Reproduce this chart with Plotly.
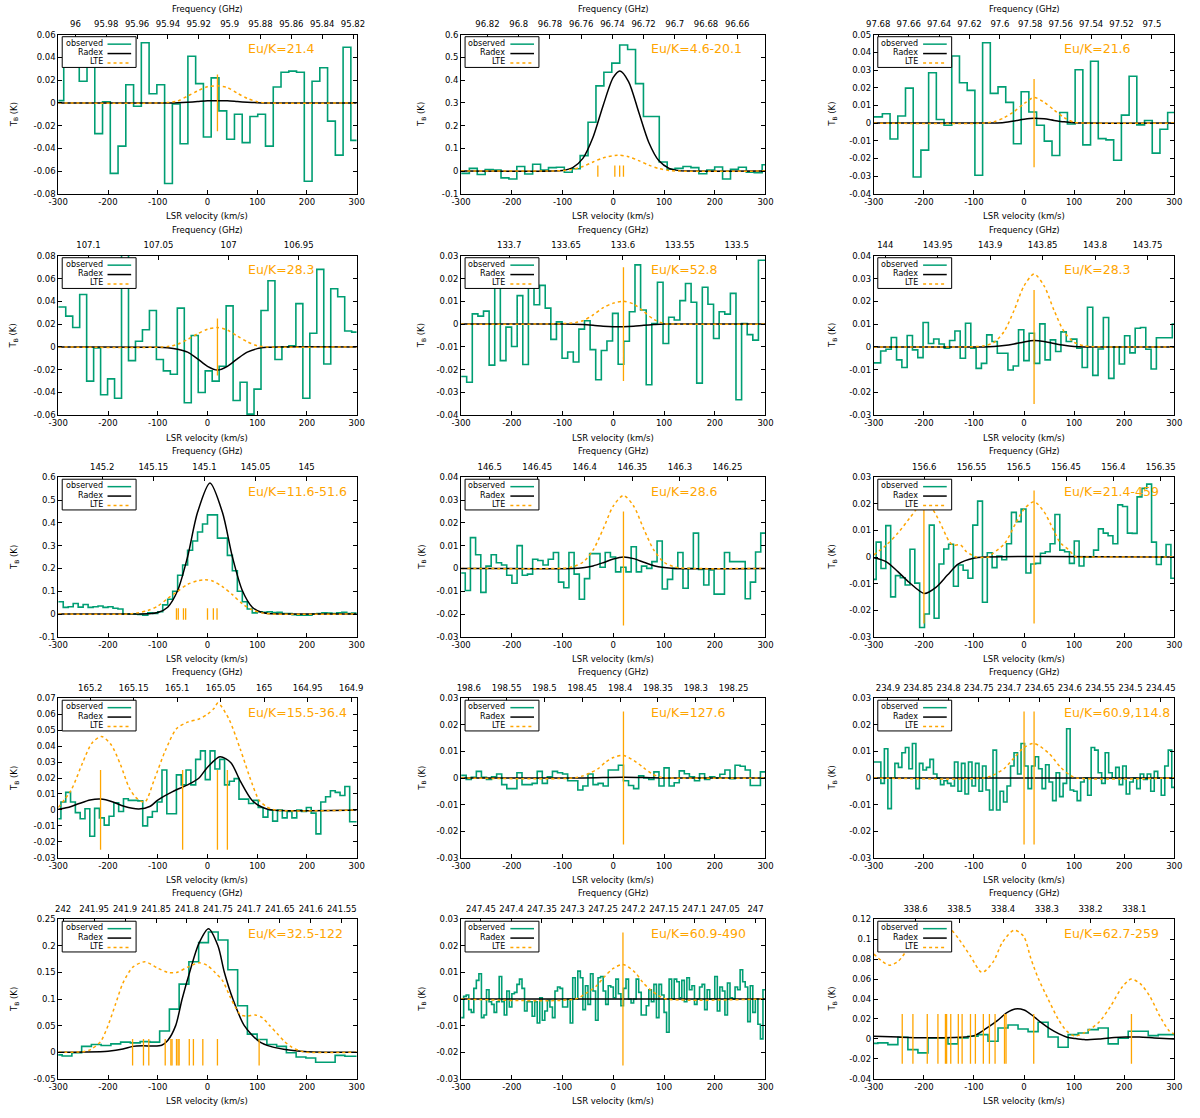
import plotly.graph_objects as go

# ---------------------------------------------------------------- data
VEL_TICKS = [-300, -200, -100, 0, 100, 200, 300]
MARK_LO, MARK_HI = -0.025, 0.025

# ---- panel 1
P1_LABEL = "Eu/K=21.4"
P1_FREQ_RANGE = [96.0111, 95.8176]
P1_FREQ_TICKS = ["96", "95.98", "95.96", "95.94", "95.92", "95.9", "95.88", "95.86", "95.84", "95.82"]
P1_Y_TICKS = ["-0.08", "-0.06", "-0.04", "-0.02", "0", "0.02", "0.04", "0.06"]
P1_V0, P1_DV = -296.8, 15.6
P1_OBS = [0.002, 0.045, 0.045, 0.019, 0.035, -0.027, 0.001, -0.062, -0.038, 0.016, -0.003, 0.053, 0.008,
          0.016, -0.071, -0.001, -0.036, 0.041, 0.017, -0.030, 0.022, -0.007, -0.032, -0.010, -0.035, -0.012,
          -0.010, -0.038, 0.014, 0.027, 0.028, 0.027, -0.069, 0.019, 0.031, -0.016, -0.046, 0.049, -0.033]
P1_RADEX_V = [-300, -80, -60, -40, -20, 0, 20, 40, 60, 80, 100, 120, 300]
P1_RADEX_T = [0, 0, 0.0002, 0.0006, 0.0012, 0.0018, 0.002, 0.0018, 0.0012, 0.0006, 0.0002, 0, 0]
P1_LTE_V = [-300, -80, -60, -40, -20, 0, 20, 40, 60, 80, 100, 120, 300]
P1_LTE_T = [0, 0.0003, 0.0017, 0.006, 0.0105, 0.0143, 0.015, 0.0135, 0.0085, 0.004, 0.001, 0, 0]
P1_LINES = [20]

# ---- panel 2
P2_LABEL = "Eu/K=4.6-20.1"
P2_FREQ_RANGE = [96.8369, 96.6419]
P2_FREQ_TICKS = ["96.82", "96.8", "96.78", "96.76", "96.74", "96.72", "96.7", "96.68", "96.66"]
P2_Y_TICKS = ["-0.1", "0", "0.1", "0.2", "0.3", "0.4", "0.5", "0.6"]
P2_V0, P2_DV = -291.6, 15.6
P2_OBS = [-0.01, 0.012, -0.015, 0.007, 0.004, -0.03, -0.035, 0.02, -0.013, 0.03, 0.004, 0.015, 0.017,
          -0.005, 0.01, 0.068, 0.215, 0.375, 0.435, 0.475, 0.555, 0.535, 0.385, 0.24, 0.24, 0.04, 0.008,
          0.012, 0.02, 0.015, -0.012, 0.005, 0.018, -0.035, 0.008, 0.017, -0.005, -0.007, 0.028]
P2_RADEX_V = [-300, -120, -100, -80, -60, -40, -20, 0, 13, 30, 50, 70, 90, 110, 130, 150, 300]
P2_RADEX_T = [0, 0.0005, 0.003, 0.0156, 0.056, 0.149, 0.289, 0.412, 0.44, 0.394, 0.26, 0.126, 0.045,
              0.012, 0.002, 0, 0]
P2_LTE_V = [-300, -120, -100, -80, -60, -40, -20, 8, 30, 50, 70, 90, 110, 130, 300]
P2_LTE_T = [0, 0.0005, 0.002, 0.008, 0.02, 0.04, 0.058, 0.07, 0.063, 0.046, 0.026, 0.011, 0.003, 0, 0]
P2_LINES = [-30.5, 3, 12.5, 20]

# ---- panel 3
P3_LABEL = "Eu/K=21.6"
P3_FREQ_RANGE = [97.6829, 97.4853]
P3_FREQ_TICKS = ["97.68", "97.66", "97.64", "97.62", "97.6", "97.58", "97.56", "97.54", "97.52", "97.5"]
P3_Y_TICKS = ["-0.04", "-0.03", "-0.02", "-0.01", "0", "0.01", "0.02", "0.03", "0.04", "0.05"]
P3_V0, P3_DV = -290.7, 15.4
P3_OBS = [0.0035, 0.0053, -0.009, 0.004, 0.0198, -0.0305, -0.0153, 0.0285, 0.002, -0.0012, 0.038, 0.0228,
          0.0185, -0.0295, 0.0455, 0.0168, 0.0205, 0.0117, -0.0117, 0.0177, 0.0063, -0.0012, -0.0102,
          -0.0183, 0.006, -0.0005, 0.0302, -0.0123, 0.035, -0.0088, -0.0095, -0.021, 0.0045, 0.0265,
          -0.001, 0.0015, -0.017, -0.0035, 0.006]
P3_RADEX_V = [-300, -80, -60, -40, -20, 0, 20, 40, 60, 80, 100, 120, 300]
P3_RADEX_T = [0, 0, 0.0001, 0.0004, 0.0012, 0.0022, 0.0028, 0.0024, 0.0015, 0.0007, 0.0002, 0, 0]
P3_LTE_V = [-300, -80, -60, -40, -20, 0, 20, 40, 60, 80, 100, 120, 300]
P3_LTE_T = [0, 0, 0.0008, 0.003, 0.0065, 0.011, 0.0145, 0.0118, 0.0074, 0.0031, 0.0005, 0, 0]
P3_LINES = [20]

# ---- panel 4
P4_LABEL = "Eu/K=28.3"
P4_FREQ_RANGE = [107.1215, 106.9086]
P4_FREQ_TICKS = ["107.1", "107.05", "107", "106.95"]
P4_Y_TICKS = ["-0.06", "-0.04", "-0.02", "0", "0.02", "0.04", "0.06", "0.08"]
P4_V0, P4_DV = -292.0, 14.02
P4_OBS = [0.035, 0.027, 0.017, 0.046, -0.030, -0.001, -0.042, -0.028, -0.045, 0.085, -0.012, 0.005, 0.015,
          0.032, -0.011, -0.021, -0.024, 0.034, -0.049, 0.010, -0.040, -0.021, -0.030, -0.017, 0.036,
          -0.047, -0.031, -0.059, -0.037, 0.032, 0.058, -0.011, 0.0, 0.001, 0.038, -0.045, 0.012, 0.068,
          -0.015, 0.051, 0.044, 0.014, 0.013]
P4_RADEX_V = [-300, -100, -80, -60, -40, -20, 0, 20, 40, 60, 80, 100, 120, 140, 300]
P4_RADEX_T = [0, -0.0002, -0.0007, -0.002, -0.0046, -0.0104, -0.017, -0.0203, -0.017, -0.0104, -0.0046,
              -0.0015, -0.0004, 0, 0]
P4_LTE_V = [-300, -80, -60, -40, -20, 0, 20, 40, 60, 80, 100, 120, 300]
P4_LTE_T = [0, 0.0003, 0.0024, 0.0065, 0.0115, 0.0155, 0.017, 0.0148, 0.0095, 0.0045, 0.001, 0, 0]
P4_LINES = [20]

# ---- panel 5
P5_LABEL = "Eu/K=52.8"
P5_FREQ_RANGE = [133.7422, 133.4747]
P5_FREQ_TICKS = ["133.7", "133.65", "133.6", "133.55", "133.5"]
P5_Y_TICKS = ["-0.04", "-0.03", "-0.02", "-0.01", "0", "0.01", "0.02", "0.03"]
P5_V0, P5_DV = -294.6, 11.06
P5_OBS = [-0.023, -0.0255, 0.0045, 0.0035, 0.0057, -0.018, 0.018, -0.016, -0.0013, -0.0098, 0.0125, -0.0177,
          0.021, 0.0085, 0.017, 0.007, -0.0067, 0.001, -0.015, -0.0122, -0.0166, -0.0022, 0.0015, -0.0112,
          -0.0244, -0.0116, -0.0074, 0.0047, -0.0176, -0.0075, 0.0054, 0.026, 0.0062, -0.0266, 0.0003,
          0.0184, -0.0085, 0.003, 0.0018, 0.0103, 0.0178, 0.0096, -0.0259, 0.0162, 0.0087, -0.0063, 0.0054,
          0.0044, 0.0135, -0.0332, 0.0003, -0.0046, -0.007, 0.028]
P5_RADEX_V = [-300, -100, -60, -40, -20, 0, 20, 40, 60, 80, 100, 300]
P5_RADEX_T = [0, 0, -0.0002, -0.0005, -0.0009, -0.0011, -0.0011, -0.0009, -0.0005, -0.0002, 0, 0]
P5_LTE_V = [-300, -80, -60, -40, -20, 0, 20, 40, 60, 80, 100, 120, 300]
P5_LTE_T = [0, 0.0005, 0.0015, 0.004, 0.0072, 0.0092, 0.01, 0.0088, 0.0055, 0.002, 0.0003, 0, 0]
P5_LINES = [20]

# ---- panel 6
P6_LABEL = "Eu/K=28.3"
P6_FREQ_RANGE = [144.0109, 143.7245]
P6_FREQ_TICKS = ["144", "143.95", "143.9", "143.85", "143.8", "143.75"]
P6_Y_TICKS = ["-0.03", "-0.02", "-0.01", "0", "0.01", "0.02", "0.03", "0.04"]
P6_V0, P6_DV = -291.7, 10.59
P6_OBS = [-0.007, -0.0018, -0.001, 0.0041, -0.0057, -0.009, 0.005, -0.0013, -0.0047, 0.0107, 0.0015, 0.0035,
          0.0013, -0.0006, 0.0028, 0.007, -0.005, 0.0104, -0.0006, -0.0094, -0.0072, 0.0053, 0.0024, -0.0028,
          -0.0028, -0.0101, -0.0084, 0.0075, -0.006, 0.006, -0.0072, 0.0101, -0.0057, 0.0031, -0.002, 0.0066,
          0.0024, 0.0034, -0.0006, -0.009, 0.0174, -0.0125, -0.0009, 0.0129, -0.0138, -0.0001, -0.0075,
          0.0049, -0.0026, 0.0082, 0.0085, -0.001, -0.0097, 0.004, 0.004, 0.004, 0.01]
P6_RADEX_V = [-300, -80, -60, -40, -20, 0, 20, 40, 60, 80, 100, 120, 300]
P6_RADEX_T = [0, 0, 0.0002, 0.0006, 0.0013, 0.0022, 0.0028, 0.0024, 0.0015, 0.0007, 0.0002, 0, 0]
P6_LTE_V = [-300, -100, -80, -60, -40, -20, 0, 20, 40, 60, 80, 100, 120, 140, 300]
P6_LTE_T = [0, 0.0001, 0.0005, 0.002, 0.0067, 0.016, 0.0268, 0.032, 0.0268, 0.016, 0.0067, 0.002, 0.0005,
            0.0001, 0]
P6_LINES = [20]

# ---- panel 7
P7_LABEL = "Eu/K=11.6-51.6"
P7_FREQ_RANGE = [145.243, 144.951]
P7_FREQ_TICKS = ["145.2", "145.15", "145.1", "145.05", "145", "144.95"]
P7_Y_TICKS = ["-0.1", "0", "0.1", "0.2", "0.3", "0.4", "0.5", "0.6"]
P7_V0, P7_DV = -295.0, 10.0
P7_OBS = [0.054, 0.029, 0.032, 0.046, 0.03, 0.042, 0.029, 0.032, 0.035, 0.029, 0.032, 0.025, 0.022, 0.0, 0.0,
          0.0, -0.002, -0.005, 0.005, 0.002, 0.01, 0.04, 0.065, 0.10, 0.17, 0.215, 0.28, 0.32, 0.36, 0.395,
          0.435, 0.435, 0.333, 0.333, 0.257, 0.19, 0.10, 0.054, 0.022, 0.005, 0.01, 0.008, 0.01, 0.006,
          0.007, 0.002, 0.002, -0.003, -0.005, -0.005, -0.005, 0.0, 0.002, 0.005, 0.004, 0.002, 0.005,
          0.008, 0.002, 0.004]
P7_RADEX_V = [-300, -140, -120, -100, -80, -60, -40, -20, 5, 30, 50, 70, 90, 110, 130, 150, 300]
P7_RADEX_T = [0, 0.0001, 0.001, 0.0064, 0.030, 0.103, 0.251, 0.446, 0.575, 0.446, 0.251, 0.103, 0.030,
              0.0064, 0.001, 0.0001, 0]
P7_LTE_V = [-300, -160, -140, -120, -100, -80, -60, -40, -20, -5, 10, 30, 50, 70, 90, 110, 130, 300]
P7_LTE_T = [0, 0, 0.005, 0.015, 0.035, 0.068, 0.10, 0.13, 0.146, 0.15, 0.145, 0.12, 0.085, 0.045, 0.018,
            0.005, 0, 0]
P7_LINES = [-62.4, -58.7, -48.3, -43.9, 0, 11.8, 19.2]

# ---- panel 8
P8_LABEL = "Eu/K=28.6"
P8_FREQ_RANGE = [146.53, 146.21]
P8_FREQ_TICKS = ["146.5", "146.45", "146.4", "146.35", "146.3", "146.25"]
P8_Y_TICKS = ["-0.03", "-0.02", "-0.01", "0", "0.01", "0.02", "0.03", "0.04"]
P8_V0, P8_DV = -297.0, 10.22
P8_OBS = [-0.002, -0.0097, 0.0135, 0.006, -0.0105, 0.001, 0.006, 0.0025, 0.0015, -0.003, -0.0065, 0.010,
          -0.003, -0.0025, 0.004, 0.0035, 0.0015, 0.004, 0.007, -0.006, -0.0085, 0.007, -0.0025, -0.0135,
          -0.0045, 0.0065, 0.0065, 0.0005, 0.007, 0.005, -0.0015, 0.0005, -0.0015, 0.0095, -0.0015, 0.001,
          0.0, 0.003, 0.012, -0.009, -0.0048, 0.0, 0.007, -0.0087, 0.0, 0.0155, -0.0005, -0.0073, -0.0007,
          -0.0113, -0.0113, 0.007, 0.003, 0.003, 0.003, -0.0133, -0.006, 0.0072, 0.0155]
P8_RADEX_V = [-300, -80, -60, -40, -20, 0, 20, 40, 60, 80, 100, 120, 300]
P8_RADEX_T = [0, 0, 0.0003, 0.0011, 0.0025, 0.0041, 0.005, 0.0043, 0.0027, 0.0012, 0.0004, 0, 0]
P8_LTE_V = [-300, -100, -80, -60, -40, -20, 0, 20, 40, 60, 80, 100, 120, 140, 300]
P8_LTE_T = [0, 0.0001, 0.0007, 0.0027, 0.008, 0.0173, 0.0274, 0.032, 0.0274, 0.0173, 0.008, 0.0027, 0.0007,
            0.0001, 0]
P8_LINES = [20]

# ---- panel 9
P9_LABEL = "Eu/K=21.4-459"
P9_FREQ_RANGE = [156.6533, 156.3357]
P9_FREQ_TICKS = ["156.6", "156.55", "156.5", "156.45", "156.4", "156.35"]
P9_Y_TICKS = ["-0.03", "-0.02", "-0.01", "0", "0.01", "0.02", "0.03"]
P9_V0, P9_DV = -300.2, 9.65
P9_OBS = [-0.0084, 0.0056, -0.0043, 0.0118, -0.015, -0.007, -0.0078, -0.0105, 0.0029, -0.0098, -0.0265,
          -0.0214, 0.012, -0.023, -0.0026, 0.003, 0.0048, -0.011, -0.003, -0.005, -0.008, 0.012, 0.021,
          -0.017, 0.0016, -0.004, 0.0004, -0.001, 0.005, 0.0168, 0.0133, 0.018, -0.006, -0.0026, -0.0024,
          0.0014, 0.002, 0.005, 0.016, 0.0026, 0.002, -0.0024, 0.006, -0.0034, 0.0, 0.0, 0.0026, 0.0106,
          0.009, 0.008, 0.005, 0.0196, 0.019, 0.009, 0.0089, 0.0226, 0.0258, 0.0274, 0.0056, -0.0028, 0.0,
          0.0047, -0.008]
P9_RADEX_V = [-300, -275, -252, -229, -199, -176, -153, -131, -101, -80, 300]
P9_RADEX_T = [-0.0003, -0.0018, -0.0055, -0.0096, -0.0137, -0.0114, -0.0068, -0.0026, -0.0005, 0, 0]
P9_LTE_V = [-300, -275, -252, -229, -210, -200, -185, -168, -150, -142, -127, -115, -105, -95, -70, -62,
            -39, -17, 0, 20, 40, 54, 70, 77, 88, 104, 120, 300]
P9_LTE_T = [0.0008, 0.0045, 0.009, 0.0145, 0.019, 0.02, 0.0185, 0.013, 0.006, 0.0045, 0.0045, 0.002, 0.0008,
            0.0, 0.0, 0.0014, 0.005, 0.0126, 0.018, 0.0208, 0.017, 0.012, 0.006, 0.0045, 0.0029, 0.0, 0, 0]
P9_LINES = [-200, 20]

# ---- panel 10
P10_LABEL = "Eu/K=15.5-36.4"
P10_FREQ_RANGE = [165.2368, 164.8936]
P10_FREQ_TICKS = ["165.2", "165.15", "165.1", "165.05", "165", "164.95", "164.9"]
P10_Y_TICKS = ["-0.03", "-0.02", "-0.01", "0", "0.01", "0.02", "0.03", "0.04", "0.05", "0.06", "0.07"]
P10_V0, P10_DV = -299.5, 9.675
P10_OBS = [-0.0055, 0.005, 0.011, 0.005, -0.0017, -0.0055, 0.0007, -0.0165, 0.001, -0.005, -0.0095, -0.004,
           0.0045, -0.001, 0.007, 0.006, 0.006, 0.0057, -0.01, -0.0045, -0.001, 0.005, 0.025, -0.0024,
           -0.0024, 0.022, 0.0157, 0.025, 0.0157, 0.0317, 0.037, 0.019, 0.037, 0.0257, 0.0317, 0.0157, 0.018,
           0.0196, 0.0068, 0.0068, 0.004, 0.006, 0.0015, -0.0045, 0.0, -0.007, 0.0, -0.005, -0.001, -0.005,
           0.0, -0.001, 0.0015, -0.002, -0.015, 0.005, 0.0083, 0.012, 0.011, 0.009, 0.0147, -0.0074]
P10_RADEX_V = [-300, -281, -258, -236, -215, -190, -168, -138, -115, -100, -70, -40, -17, -2, 25, 47, 66, 89,
               111, 130, 300]
P10_RADEX_T = [0.0005, 0.0015, 0.004, 0.0062, 0.0068, 0.005, 0.0023, 0.0006, 0.0023, 0.0062, 0.0115, 0.0157,
               0.02, 0.026, 0.0333, 0.0296, 0.018, 0.0062, 0.0015, 0.0, 0]
P10_LTE_V = [-300, -274, -251, -232, -213, -194, -175, -157, -142, -126, -107, -85, -62, -40, -17, 0, 13, 21,
             43, 66, 89, 104, 119, 135, 300]
P10_LTE_T = [0.0015, 0.0125, 0.0296, 0.042, 0.046, 0.041, 0.0285, 0.0136, 0.0072, 0.005, 0.019, 0.037, 0.051,
             0.055, 0.057, 0.06, 0.0636, 0.067, 0.057, 0.038, 0.017, 0.006, 0.002, 0, 0]
P10_LINES = [-215, -50, 20, 40]

# ---- panel 11
P11_LABEL = "Eu/K=127.6"
P11_FREQ_RANGE = [198.6102, 198.2079]
P11_FREQ_TICKS = ["198.6", "198.55", "198.5", "198.45", "198.4", "198.35", "198.3", "198.25"]
P11_Y_TICKS = ["-0.03", "-0.02", "-0.01", "0", "0.01", "0.02", "0.03"]
P11_V0, P11_DV = -295.0, 10.0
P11_OBS = [0.001, -0.0005, 0.0003, 0.0025, 0.0003, -0.0005, 0.0005, 0.0015, -0.0025, -0.004, -0.004, 0.002,
           -0.0025, -0.0025, -0.002, 0.0025, -0.002, 0.0005, 0.0025, 0.002, 0.0015, -0.001, -0.001, -0.0045,
           -0.003, 0.0015, -0.0025, -0.002, -0.003, 0.003, 0.003, 0.0048, -0.001, -0.0028, -0.004, 0.0008,
           0.0, -0.0005, 0.0023, -0.003, 0.0038, -0.003, -0.0018, 0.0027, 0.0016, 0.0005, -0.001, 0.0016,
           -0.0005, 0.0005, 0.0, 0.0014, 0.003, -0.0003, 0.0048, 0.0044, 0.003, -0.0028, -0.0028, 0.0023]
P11_RADEX_V = [-300, -60, 20, 100, 300]
P11_RADEX_T = [0, 0, 0.0003, 0, 0]
P11_LTE_V = [-300, -80, -60, -45, -30, -15, 0, 20, 45, 60, 76, 91, 110, 300]
P11_LTE_T = [0, 0, 0.0008, 0.002, 0.0035, 0.006, 0.0077, 0.0085, 0.006, 0.0038, 0.0016, 0.0004, 0, 0]
P11_LINES = [20]

# ---- panel 12
P12_LABEL = "Eu/K=60.9,114.8"
P12_FREQ_RANGE = [234.9233, 234.4277]
P12_FREQ_TICKS = ["234.9", "234.85", "234.8", "234.75", "234.7", "234.65", "234.6", "234.55", "234.5", "234.45"]
P12_Y_TICKS = ["-0.03", "-0.02", "-0.01", "0", "0.01", "0.02", "0.03"]
P12_V0, P12_DV = -289.5, 7.0
P12_OBS = [0.006, -0.002, 0.011, -0.0115, 0.0, 0.0055, 0.004, 0.0095, 0.0115, 0.0035, 0.013, -0.004, 0.0055,
           0.003, 0.004, 0.007, 0.0015, 0.0, -0.0025, -0.001, -0.002, -0.003, 0.006, -0.005, 0.0055, -0.006,
           0.006, -0.003, 0.0055, -0.005, 0.0045, -0.0045, -0.012, 0.0105, -0.012, -0.005, -0.009, -0.003,
           0.0045, 0.0095, 0.0015, 0.013, 0.0045, -0.004, 0.0045, 0.008, 0.0035, -0.004, 0.005, -0.0015,
           -0.0085, 0.002, -0.007, -0.002, 0.0185, -0.0045, -0.005, -0.0085, -0.0015, 0.0, -0.0065, 0.0115,
           0.0105, 0.002, -0.002, 0.0095, 0.002, 0.0, 0.004, -0.0025, 0.0045, -0.006, -0.0015, 0.0, -0.004,
           0.0015, -0.0005, 0.0015, -0.005, 0.0025, 0.0, -0.0065, 0.0045, 0.0105, -0.0035]
P12_RADEX_V = [-300, 300]
P12_RADEX_T = [0, 0]
P12_LTE_V = [-300, -80, -63, -40, -18, 0, 20, 50, 73, 92, 105, 300]
P12_LTE_T = [0, 0, 0.001, 0.0035, 0.008, 0.0115, 0.013, 0.0092, 0.004, 0.001, 0, 0]
P12_LINES = [0, 20]

# ---- panel 13
P13_LABEL = "Eu/K=32.5-122"
P13_FREQ_RANGE = [242.0079, 241.5259]
P13_FREQ_TICKS = ["242", "241.95", "241.9", "241.85", "241.8", "241.75", "241.7", "241.65", "241.6", "241.55"]
P13_Y_TICKS = ["-0.05", "0", "0.05", "0.1", "0.15", "0.2", "0.25"]
P13_V0, P13_DV = -302.0, 19.6
P13_OBS = [-0.005, -0.007, -0.001, 0.011, 0.0145, 0.0125, 0.0156, 0.019, 0.0175, 0.02, 0.019, 0.04, 0.081,
           0.128, 0.17, 0.206, 0.226, 0.211, 0.155, 0.0875, 0.034, 0.024, 0.0145, 0.011, -0.001, -0.009,
           -0.011, -0.019, -0.019, -0.006, -0.0075]
P13_RADEX_V = [-300, -250, -200, -170, -150, -130, -110, -92, -80, -64, -51, -36, -17, 2, 21, 34, 51, 74, 104,
               130, 164, 200, 300]
P13_RADEX_T = [0, 0.0005, 0.002, 0.006, 0.011, 0.012, 0.0115, 0.013, 0.022, 0.05, 0.1, 0.15, 0.205, 0.232,
               0.2, 0.15, 0.1, 0.05, 0.02, 0.01, 0.004, 0.001, 0]
P13_LTE_V = [-300, -250, -235, -215, -200, -185, -170, -150, -126, -100, -80, -62, -40, -17, 0, 15, 30, 45,
             56, 67, 80, 96, 110, 125, 140, 155, 170, 185, 200, 300]
P13_LTE_T = [0, 0.001, 0.005, 0.02, 0.05, 0.09, 0.13, 0.16, 0.17, 0.158, 0.15, 0.15, 0.16, 0.168, 0.163,
             0.15, 0.135, 0.105, 0.085, 0.07, 0.068, 0.07, 0.065, 0.05, 0.035, 0.02, 0.009, 0.003, 0, 0]
P13_LINES = [-150.6, -128.7, -118, -85, -73.6, -71.3, -62.3, -59.2, -57, -36.6, -28.3, -9.4, 20, 103.8]

# ---- panel 14
P14_LABEL = "Eu/K=60.9-490"
P14_FREQ_RANGE = [247.4825, 246.9837]
P14_FREQ_TICKS = ["247.45", "247.4", "247.35", "247.3", "247.25", "247.2", "247.15", "247.1", "247.05", "247"]
P14_Y_TICKS = ["-0.03", "-0.02", "-0.01", "0", "0.01", "0.02", "0.03"]
P14_V0, P14_DV = -297.5, 5.0
P14_OBS = [-0.007, 0.001, 0.0015, -0.004, -0.005, 0.004, 0.007, 0.0095, -0.007, -0.006, 0.0035, -0.001,
           -0.002, -0.005, -0.001, 0.0085, -0.001, -0.006, 0.003, -0.003, 0.002, 0.0025, 0.0055, 0.0075,
           0.004, -0.0045, -0.001, -0.001, -0.0065, -0.001, -0.009, 0.0005, -0.008, -0.0045, -0.0005, -0.003,
           -0.007, 0.003, 0.0045, 0.004, -0.003, -0.003, 0.0, -0.009, 0.008, 0.0, 0.0105, 0.008, -0.004,
           0.005, -0.002, 0.0095, 0.003, -0.008, 0.008, 0.0085, 0.003, -0.002, 0.005, 0.0045, 0.0005, 0.0075,
           0.002, -0.0025, 0.004, 0.0075, 0.0, -0.0015, 0.0, 0.0075, 0.0025, -0.006, -0.006, -0.0025, 0.0035,
           -0.001, 0.0055, -0.007, 0.0055, 0.0015, -0.005, -0.0125, 0.0075, 0.0, 0.0075, 0.0065, 0.0005,
           0.007, -0.001, 0.008, 0.0035, 0.005, -0.002, 0.0, 0.0045, 0.0055, -0.004, 0.0035, 0.0, 0.0, 0.0085,
           -0.0045, 0.0045, 0.003, -0.006, 0.006, 0.0005, 0.0, 0.0045, 0.0035, 0.011, 0.0065, 0.0045,
           -0.0085, 0.005, -0.005, 0.0, -0.0095, -0.015, 0.0035]
P14_RADEX_V = [-300, 300]
P14_RADEX_T = [0, 0]
P14_LTE_V = [-300, -75, -55, -33, -17, 0, 19, 43, 58, 73, 89, 105, 300]
P14_LTE_T = [0, 0, 0.002, 0.005, 0.0085, 0.0115, 0.013, 0.01, 0.0063, 0.0035, 0.0013, 0, 0]
P14_LINES = [19]

# ---- panel 15
P15_LABEL = "Eu/K=62.7-259"
P15_FREQ_RANGE = [338.6953, 338.0088]
P15_FREQ_TICKS = ["338.6", "338.5", "338.4", "338.3", "338.2", "338.1"]
P15_Y_TICKS = ["-0.04", "-0.02", "0", "0.02", "0.04", "0.06", "0.08", "0.1", "0.12"]
P15_V0, P15_DV = -302.0, 20.0
P15_OBS = [-0.0045, -0.004, -0.0057, 0.0017, -0.0107, -0.014, 0.001, 0.001, -0.005, 0.001, 0.0027, 0.0043,
           -0.0023, 0.011, 0.014, 0.010, 0.0073, 0.0167, 0.002, -0.0083, 0.0043, 0.006, 0.0093, 0.011, -0.005,
           0.0007, 0.0077, 0.0077, 0.0033, 0.0043, 0.0043]
P15_RADEX_V = [-300, -250, -200, -130, -100, -77, -54, -35, -18, 0, 18, 35, 52, 70, 86, 100, 120, 150, 180,
               203, 230, 260, 300]
P15_RADEX_T = [0.0027, 0.0018, 0.0012, 0.0016, 0.0033, 0.01, 0.018, 0.026, 0.03, 0.029, 0.023, 0.016, 0.01,
               0.005, 0.0017, 0.0005, -0.0007, 0.0, 0.0015, 0.002, 0.0018, 0.001, 0]
P15_LTE_V = [-300, -270, -251, -228, -198, -171, -152, -130, -107, -84, -62, -43, -20, -1, 14, 29, 48, 68, 85,
             101, 120, 150, 173, 196, 214, 233, 252, 271, 290, 300]
P15_LTE_T = [0.085, 0.074, 0.078, 0.093, 0.107, 0.117, 0.113, 0.1, 0.083, 0.0667, 0.077, 0.097, 0.109, 0.103,
             0.08, 0.06, 0.04, 0.02, 0.008, 0.003, 0.006, 0.017, 0.033, 0.052, 0.06, 0.055, 0.042, 0.023, 0.008,
             0.005]
P15_LINES = [-243.3, -222, -193.3, -172, -157, -154.7, -146.4, -131.3, -123.7, -107, -97.2, -81.3, -69.2,
             -57.9, -39, -36, 19.3, 214.5]

g = globals()
PANELS = []
for k in range(1, 16):
    PANELS.append(dict(
        label=g[f"P{k}_LABEL"], frange=g[f"P{k}_FREQ_RANGE"], fticks=g[f"P{k}_FREQ_TICKS"],
        yticks=g[f"P{k}_Y_TICKS"], v0=g[f"P{k}_V0"], dv=g[f"P{k}_DV"], obs=g[f"P{k}_OBS"],
        rv=g[f"P{k}_RADEX_V"], rt=g[f"P{k}_RADEX_T"], lv=g[f"P{k}_LTE_V"], lt=g[f"P{k}_LTE_T"],
        lines=g[f"P{k}_LINES"]))

# ---------------------------------------------------------------- style / layout
W, H = 1200, 1118
COL_L = [49, 458, 877]
COL_R = [352, 767, 1182]
ROW_T = [30, 253, 476.5, 699.5, 922.5]
ROW_B = [190.5, 414, 637.5, 860.5, 1083.5]
YTITLE_X = [4, 418, 835]
GREEN, ORANGE, BLACK = "#009e73", "#ffa500", "#000000"
FONT = "DejaVu Sans"
FS = 8.5


def px(x):
    return x / W


def py(y):
    return 1 - y / H


def text(s, x, y, size=FS, color=BLACK, xanchor="center", angle=0):
    return dict(text=s, x=px(x), y=py(y), xref="paper", yref="paper", xanchor=xanchor, yanchor="middle",
                showarrow=False, textangle=angle, borderpad=0,
                font=dict(family=FONT, size=size, color=color))


fig = go.Figure()
layout = dict(width=W, height=H, margin=dict(l=0, r=0, t=0, b=0), paper_bgcolor="white",
              plot_bgcolor="white", showlegend=False, font=dict(family=FONT, size=FS, color=BLACK))
shapes, annos = [], []

for i, p in enumerate(PANELS):
    r, c = divmod(i, 3)
    n = i + 1
    sfx = "" if n == 1 else str(n)
    xa, ya, xt = "x" + sfx, "y" + sfx, "x" + str(n + 15)
    L, R, T, B = COL_L[c], COL_R[c], ROW_T[r], ROW_B[r]
    yvals = [float(s) for s in p["yticks"]]

    # observed spectrum (histogram steps)
    xs = [p["v0"] + p["dv"] * j for j in range(len(p["obs"]))]
    ys = list(p["obs"])
    if xs[0] > -300:
        xs = [-300] + xs
        ys = [ys[0]] + ys
    if xs[-1] < 300:
        xs = xs + [300]
        ys = ys + [ys[-1]]
    fig.add_trace(go.Scatter(x=xs, y=ys, mode="lines", xaxis=xa, yaxis=ya, hoverinfo="skip",
                             line=dict(color=GREEN, width=1.6, shape="hvh")))
    fig.add_trace(go.Scatter(x=p["rv"], y=p["rt"], mode="lines", xaxis=xa, yaxis=ya, hoverinfo="skip",
                             line=dict(color=BLACK, width=1.5, shape="spline", smoothing=0.8)))
    fig.add_trace(go.Scatter(x=p["lv"], y=p["lt"], mode="lines", xaxis=xa, yaxis=ya, hoverinfo="skip",
                             line=dict(color=ORANGE, width=1.5, shape="spline", smoothing=0.8,
                                       dash="3px,3px")))
    lx, ly = [], []
    for v in p["lines"]:
        lx += [v, v, None]
        ly += [MARK_LO, MARK_HI, None]
    fig.add_trace(go.Scatter(x=lx, y=ly, mode="lines", xaxis=xa, yaxis=ya, hoverinfo="skip",
                             line=dict(color=ORANGE, width=1.3)))
    # carrier for the frequency axis
    fig.add_trace(go.Scatter(x=p["frange"], y=[yvals[0], yvals[0]], mode="lines", xaxis=xt, yaxis=ya,
                             hoverinfo="skip", opacity=0, line=dict(width=0)))

    tickfont = dict(family=FONT, size=FS, color=BLACK)
    layout["xaxis" + sfx] = dict(domain=[px(L), px(R)], anchor=ya, range=[-300, 300],
                                 tickvals=VEL_TICKS, ticktext=[str(v) for v in VEL_TICKS],
                                 ticks="inside", ticklen=4, tickcolor=BLACK, showline=True, mirror=True,
                                 linecolor=BLACK, linewidth=1, showgrid=False, zeroline=False,
                                 tickfont=tickfont, fixedrange=True)
    layout["yaxis" + sfx] = dict(domain=[py(B), py(T)], anchor=xa, range=[yvals[0], yvals[-1]],
                                 tickvals=yvals, ticktext=p["yticks"], ticks="inside", ticklen=4,
                                 tickcolor=BLACK, showline=True, mirror="ticks", linecolor=BLACK,
                                 linewidth=1, showgrid=False, zeroline=False, tickfont=tickfont,
                                 fixedrange=True)
    layout["xaxis" + str(n + 15)] = dict(overlaying=xa, side="top", anchor=ya, range=p["frange"],
                                         tickvals=[float(s) for s in p["fticks"]], ticktext=p["fticks"],
                                         ticks="inside", ticklen=4, tickcolor=BLACK, showline=False,
                                         showgrid=False, zeroline=False, tickfont=tickfont, fixedrange=True,
                                         ticklabelstandoff=5)

    cx = (L + R) / 2
    annos.append(text("Frequency (GHz)", cx, T - 26))
    annos.append(text("LSR velocity (km/s)", cx, B + 22.5))
    annos.append(text("T<sub>B</sub> (K)", YTITLE_X[c], (T + B) / 2, angle=-90))
    annos.append(text(p["label"], L + 192, T + 14, size=12.5, color=ORANGE, xanchor="left"))

    # key box (opaque, gnuplot style: text right, sample on the right)
    shapes.append(dict(type="rect", xref="paper", yref="paper", x0=px(L + 4), x1=px(L + 79),
                       y0=py(T + 33), y1=py(T + 2), fillcolor="white", line=dict(color=BLACK, width=1),
                       layer="above"))
    keys = [("observed", GREEN, "solid", 9.5), ("Radex", BLACK, "solid", 19), ("LTE", ORANGE, "3px,3px", 28.5)]
    for name, col, dash, dy in keys:
        shapes.append(dict(type="line", xref="paper", yref="paper", x0=px(L + 50), x1=px(L + 74),
                           y0=py(T + dy), y1=py(T + dy), line=dict(color=col, width=1.5, dash=dash),
                           layer="above"))
        annos.append(text(name, L + 46, T + dy - 1, size=8, xanchor="right"))

layout["shapes"] = shapes
layout["annotations"] = annos
fig.update_layout(**layout)
fig.write_html("out.html", config={"displayModeBar": False},
               post_script="document.body.style.margin='0px';")
